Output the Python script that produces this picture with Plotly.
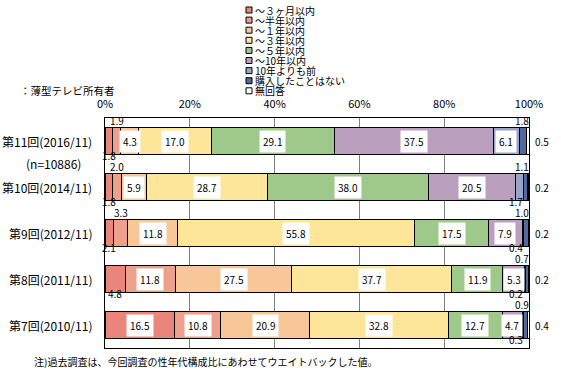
import plotly.graph_objects as go

FONT = "Noto Sans CJK JP"

categories = ["第11回(2016/11)", "第10回(2014/11)", "第9回(2012/11)", "第8回(2011/11)", "第7回(2010/11)"]
sample_note = "(n=10886)"

series_names = ["～３ヶ月以内", "～半年以内", "～１年以内", "～３年以内", "～５年以内",
                "～10年以内", "10年よりも前", "購入したことはない", "無回答"]

s_3m = [1.8, 1.8, 2.1, 4.8, 16.5]
s_6m = [1.9, 2.0, 3.3, 11.8, 10.8]
s_1y = [4.3, 5.9, 11.8, 27.5, 20.9]
s_3y = [17.0, 28.7, 55.8, 37.7, 32.8]
s_5y = [29.1, 38.0, 17.5, 11.9, 12.7]
s_10y = [37.5, 20.5, 7.9, 5.3, 4.7]
s_over10 = [6.1, 1.7, 0.4, 0.2, 0.3]
s_never = [1.8, 1.1, 1.0, 0.7, 0.9]
s_na = [0.5, 0.2, 0.2, 0.2, 0.4]

series_values = [s_3m, s_6m, s_1y, s_3y, s_5y, s_10y, s_over10, s_never, s_na]

colors = ["#E9857A", "#EDA08C", "#F8C797", "#FDE699", "#9EC98B",
          "#BA9FBE", "#98A4C9", "#50699F", "#FFFFFF"]

x_ticks = [0, 20, 40, 60, 80, 100]
subtitle = "：薄型テレビ所有者"
footnote = "注)過去調査は、今回調査の性年代構成比にあわせてウエイトバックした値。"

# layout geometry (pixels)
W, H = 561, 373
ML, MR, MT, MB = 105, 32, 118, 25
PW, PH = W - ML - MR, H - MT - MB
BAR_FRAC = 0.59

def px_x(px):
    return (px - ML) / PW

def px_y(py):
    return (H - MB - py) / PH

fig = go.Figure()
for name, vals, col in zip(series_names, series_values, colors):
    fig.add_trace(go.Bar(
        y=categories, x=vals, name=name, orientation="h",
        marker=dict(color=col, line=dict(color="black", width=1)),
        showlegend=False, hoverinfo="x+name",
    ))

LBL = dict(size=10, color="black", family=FONT)
UP_SHIFT = -2    # labels sitting above a bar
DOWN_SHIFT = 8   # labels sitting below a bar

annotations = []
half = BAR_FRAC / 2
for i, cat in enumerate(categories):
    start = 0.0
    for s, vals in enumerate(series_values):
        v = vals[i]
        mid = start + v / 2
        txt = f"{v:.1f}"
        if s == 8:
            annotations.append(dict(x=100, y=i, xref="x", yref="y", text=txt,
                                    xanchor="left", yanchor="middle", xshift=4,
                                    showarrow=False, font=LBL))
        elif s == 7:
            annotations.append(dict(x=min(mid, 98.3), y=i - half, xref="x", yref="y", text=txt,
                                    xanchor="center", yanchor="bottom", yshift=UP_SHIFT,
                                    borderpad=0, showarrow=False, font=LBL))
        else:
            inside = v >= (10 if s == 0 else 4)
            if inside:
                annotations.append(dict(x=mid, y=i, xref="x", yref="y", text=txt,
                                        xanchor="center", yanchor="middle", bgcolor="white",
                                        borderpad=3, showarrow=False, font=LBL))
            else:
                above = (s == 1)
                xpos = min(mid, 97.0) if s == 6 else mid
                annotations.append(dict(x=xpos, y=(i - half) if above else (i + half),
                                        xref="x", yref="y", text=txt, xanchor="center",
                                        yanchor="bottom" if above else "top",
                                        yshift=UP_SHIFT if above else DOWN_SHIFT, borderpad=0,
                                        showarrow=False, font=LBL))
        start += v
    # category labels
    annotations.append(dict(x=0, y=i, xref="paper", yref="y", text=cat, xanchor="right",
                            yanchor="middle", xshift=-11, showarrow=False,
                            font=dict(size=12, color="black", family=FONT)))

annotations.append(dict(x=px_x(53), y=0.48, xref="paper", yref="y", text=sample_note,
                        xanchor="center", yanchor="middle", showarrow=False,
                        font=dict(size=12, color="black", family=FONT)))
annotations.append(dict(x=px_x(18), y=px_y(90), xref="paper", yref="paper", text=subtitle,
                        xanchor="left", yanchor="middle", showarrow=False,
                        font=dict(size=10.5, color="black", family=FONT)))
annotations.append(dict(x=px_x(32), y=px_y(361), xref="paper", yref="paper", text=footnote,
                        xanchor="left", yanchor="middle", showarrow=False,
                        font=dict(size=10, color="black", family=FONT)))

# manual legend
shapes = []
LX, LY0, LDY, SQ = 246, 10, 10.1, 6
for k, (name, col) in enumerate(zip(series_names, colors)):
    cy = LY0 + k * LDY
    shapes.append(dict(type="rect", xref="paper", yref="paper",
                       x0=px_x(LX), x1=px_x(LX + SQ), y0=px_y(cy + SQ / 2), y1=px_y(cy - SQ / 2),
                       fillcolor=col, line=dict(color="black", width=1)))
    annotations.append(dict(x=px_x(LX + SQ + 1), y=px_y(cy), xref="paper", yref="paper",
                            text=name, xanchor="left", yanchor="middle", showarrow=False,
                            font=dict(size=10, color="black", family=FONT)))

fig.update_layout(
    width=W, height=H,
    margin=dict(l=ML, r=MR, t=MT, b=MB),
    barmode="stack", bargap=1 - BAR_FRAC,
    paper_bgcolor="white", plot_bgcolor="white",
    font=dict(family=FONT, color="black"),
    annotations=annotations, shapes=shapes,
    xaxis=dict(side="top", range=[0, 100], tickvals=x_ticks,
               ticktext=[f"{t}%" for t in x_ticks], showgrid=True,
               gridcolor="#808080", gridwidth=1, zeroline=False,
               showline=True, mirror=True, linecolor="black", linewidth=1,
               ticks="", ticklabelstandoff=5,
               tickfont=dict(size=11, family=FONT, color="black"), fixedrange=True),
    yaxis=dict(categoryorder="array", categoryarray=categories, autorange="reversed",
               showticklabels=False, showgrid=False, zeroline=False,
               showline=True, mirror=True, linecolor="black", linewidth=1, ticks="",
               fixedrange=True),
)

fig.write_html("out.html", config={"displayModeBar": False},
               post_script="document.body.style.margin='0';document.body.style.overflow='hidden';")
